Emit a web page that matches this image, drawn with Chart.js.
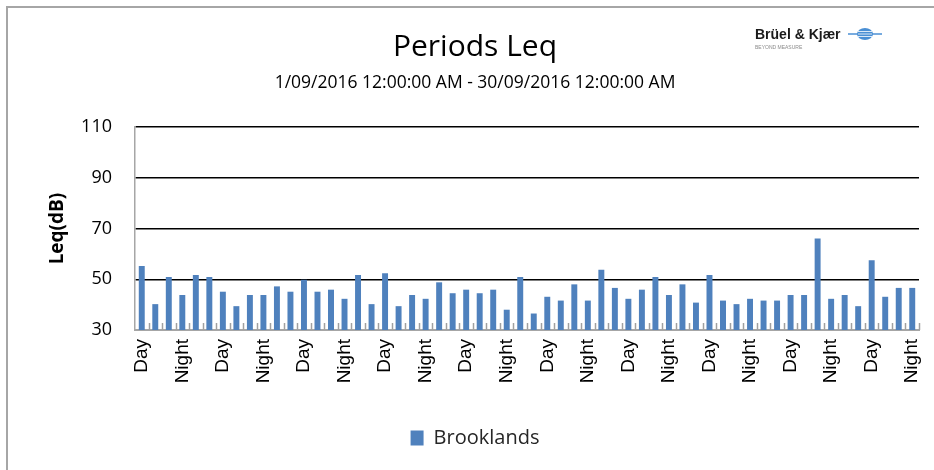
<!DOCTYPE html>
<html>
<head>
<meta charset="utf-8">
<script src="https://cdn.jsdelivr.net/npm/chart.js@4.4.1/dist/chart.umd.min.js"></script>
<style>
    html, body { margin: 0; padding: 0; background: #fff; overflow: hidden; }
    #wrap { position: absolute; left: 0; top: 0; width: 934px; height: 470px; }
    #frame {
        position: absolute; left: 6px; top: 6px; width: 1000px; height: 1000px;
        border-left: 2px solid #a6a6a6; border-top: 2px solid #a6a6a6;
        pointer-events: none;
    }
</style>
</head>
<body>
<div id="wrap"><canvas id="leqChart"></canvas></div>
<div id="frame"></div>
<script>
// Periods (alternating day / night)
const periods = [
    'Day', 'Night', 'Day', 'Night', 'Day', 'Night', 'Day', 'Night', 'Day', 'Night',
    'Day', 'Night', 'Day', 'Night', 'Day', 'Night', 'Day', 'Night', 'Day', 'Night',
    'Day', 'Night', 'Day', 'Night', 'Day', 'Night', 'Day', 'Night', 'Day', 'Night',
    'Day', 'Night', 'Day', 'Night', 'Day', 'Night', 'Day', 'Night', 'Day', 'Night',
    'Day', 'Night', 'Day', 'Night', 'Day', 'Night', 'Day', 'Night', 'Day', 'Night',
    'Day', 'Night', 'Day', 'Night', 'Day', 'Night', 'Day', 'Night'
];

// Leq values (dB) - Brooklands
const brooklandsLeq = [
    55.2, 40.2, 50.9, 43.8, 51.7, 50.9, 45.1, 39.4, 43.8, 43.8,
    47.2, 45.1, 49.8, 45.1, 45.9, 42.3, 51.7, 40.2, 52.4, 39.4,
    43.8, 42.3, 48.8, 44.5, 45.9, 44.5, 45.9, 38.0, 50.9, 36.5,
    43.1, 41.6, 48.0, 41.6, 53.8, 46.6, 42.3, 45.9, 50.9, 43.8,
    48.0, 40.8, 51.7, 41.6, 40.2, 42.3, 41.6, 41.6, 43.8, 43.8,
    66.1, 42.3, 43.8, 39.4, 57.5, 43.1, 46.6, 46.6
];

// Y axis ticks
const yTicks = [30, 50, 70, 90, 110];

const barColor = '#4F81BD';

Chart.defaults.font.family = "'Open Sans', sans-serif";
Chart.defaults.color = '#000';

// Small inward tick marks between categories (Excel style)
const innerTicks = {
    id: 'innerTicks',
    afterDraw(chart) {
        const ctx = chart.ctx;
        const x = chart.scales.x;
        const bottom = chart.chartArea.bottom;
        ctx.save();
        ctx.strokeStyle = '#a0a0a0';
        ctx.lineWidth = 1.5;
        for (let i = 1; i <= periods.length; i++) {
            const px = Math.round(x.getPixelForValue(i - 0.5)) + 0.5;
            ctx.beginPath();
            ctx.moveTo(px, bottom);
            ctx.lineTo(px, bottom - 7);
            ctx.stroke();
        }
        ctx.restore();
    }
};

// Brand mark in the top right corner
const brandMark = {
    id: 'brandMark',
    afterDraw(chart) {
        const ctx = chart.ctx;
        ctx.save();
        ctx.fillStyle = '#1a1a1a';
        ctx.font = "bold 14px 'Liberation Sans', sans-serif";
        ctx.textBaseline = 'alphabetic';
        ctx.fillText('Brüel & Kjær', 755, 39);
        ctx.fillStyle = '#8a8a8a';
        ctx.font = "5px 'Liberation Sans', sans-serif";
        ctx.fillText('BEYOND MEASURE', 755, 49);
        // globe
        ctx.strokeStyle = '#4a8fd4';
        ctx.lineWidth = 1.5;
        ctx.beginPath();
        ctx.moveTo(848, 34);
        ctx.lineTo(882, 34);
        ctx.stroke();
        ctx.fillStyle = '#4a8fd4';
        ctx.beginPath();
        ctx.ellipse(865, 34, 8, 6, 0, 0, Math.PI * 2);
        ctx.fill();
        ctx.strokeStyle = '#ffffff';
        ctx.lineWidth = 0.8;
        for (const dy of [-2.5, 0, 2.5]) {
            ctx.beginPath();
            ctx.moveTo(858, 34 + dy);
            ctx.lineTo(872, 34 + dy);
            ctx.stroke();
        }
        ctx.restore();
    }
};

const ctx = document.getElementById('leqChart').getContext('2d');
new Chart(ctx, {
    type: 'bar',
    data: {
        labels: periods,
        datasets: [{
            label: 'Brooklands',
            data: brooklandsLeq,
            backgroundColor: barColor,
            borderWidth: 0,
            barPercentage: 0.44,
            categoryPercentage: 1
        }]
    },
    options: {
        responsive: true,
        maintainAspectRatio: false,
        animation: false,
        layout: {
            padding: { left: 31, right: 15, top: 0, bottom: 12 }
        },
        plugins: {
            title: {
                display: true,
                text: 'Periods Leq',
                color: '#000',
                font: { size: 30, weight: 'normal' },
                padding: { top: 29, bottom: 4 }
            },
            subtitle: {
                display: true,
                text: '1/09/2016 12:00:00 AM - 30/09/2016 12:00:00 AM',
                color: '#000',
                font: { size: 17.5 },
                padding: { top: 3.1, bottom: 34 }
            },
            legend: {
                position: 'bottom',
                labels: {
                    boxWidth: 13,
                    boxHeight: 15,
                    color: '#262626',
                    font: { size: 20 },
                    padding: 10
                }
            },
            tooltip: { enabled: false }
        },
        scales: {
            x: {
                grid: { display: false, drawTicks: false },
                border: { display: true, color: '#a6a6a6', width: 2 },
                ticks: {
                    autoSkip: false,
                    minRotation: 90,
                    maxRotation: 90,
                    padding: 9,
                    color: '#000',
                    font: { family: "'Liberation Sans', sans-serif", size: 19 },
                    callback: (value, index) => index % 3 === 0 ? periods[index] : ''
                },
                afterFit: scale => {
                    scale.height = 88;
                    scale.paddingRight = 0;
                }
            },
            y: {
                min: yTicks[0],
                max: yTicks[yTicks.length - 1],
                afterBuildTicks: scale => {
                    scale.ticks = yTicks.map(v => ({ value: v }));
                },
                grid: {
                    drawTicks: false,
                    lineWidth: 1.5,
                    color: c => c.tick && c.tick.value === yTicks[0] ? 'rgba(0,0,0,0)' : '#000'
                },
                border: { display: true, color: '#a6a6a6', width: 1.5 },
                ticks: {
                    padding: 23,
                    color: '#000',
                    font: { size: 18 }
                },
                title: {
                    display: true,
                    text: 'Leq(dB)',
                    color: '#000',
                    font: { size: 19, weight: 'bold' },
                    padding: { top: 15.6, bottom: 0 }
                },
                afterFit: scale => { scale.width = 104; }
            }
        }
    },
    plugins: [innerTicks, brandMark]
});
</script>
</body>
</html>
